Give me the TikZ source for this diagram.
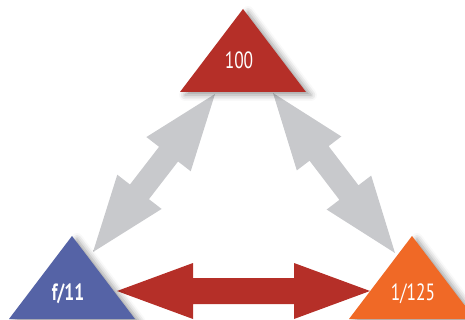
\documentclass[tikz,border=0pt]{standalone}
\usepackage{fontspec}
\newfontfamily\labelfont[FakeStretch=0.74]{PT Sans}
\usetikzlibrary{calc,shadows.blur}

\definecolor{isored}{RGB}{181,47,40}
\definecolor{apblue}{RGB}{85,99,166}
\definecolor{shorange}{RGB}{240,105,38}
\definecolor{arrgray}{RGB}{200,201,204}

% fat double arrow between two points: from, to, shaft half width, colour
\newcommand{\fatarrow}[4]{%
  \fill[#4] let \p1=($(#2)-(#1)$), \n1={atan2(\y1,\x1)}, \n2={veclen(\x1,\y1)} in
    [shift={(#1)}, rotate=\n1]
    (0,0) -- (76,28) -- (76,#3) -- (\n2-76,#3) -- (\n2-76,28) -- (\n2,0)
    -- (\n2-76,-28) -- (\n2-76,-#3) -- (76,-#3) -- (76,-28) -- cycle;}

\begin{document}
\begin{tikzpicture}[x=1pt,y=-1pt,
    tri/.style={blur shadow={shadow xshift=5pt,shadow yshift=-3pt,
        shadow blur radius=6pt,shadow opacity=40}},
    lbl/.style={text=white,anchor=base,inner sep=0pt,
        font=\labelfont\fontsize{23.5}{24}\selectfont}]
  \useasboundingbox (0,0) rectangle (465,320);
  \clip (0,0) rectangle (465,320);

  % arrow ends
  \coordinate (iso-l) at (215,94);
  \coordinate (iso-r) at (273,93);
  \coordinate (ap-t) at (93,252);
  \coordinate (ap-r) at (117,291);
  \coordinate (sh-t) at (395,253);
  \coordinate (sh-l) at (370,291);

  \fatarrow{iso-l}{ap-t}{12}{arrgray}
  \fatarrow{iso-r}{sh-t}{12}{arrgray}
  \fatarrow{ap-r}{sh-l}{13}{isored}

  % triangles
  \fill[isored,tri] (243,9) -- (306,92) -- (180,92) -- cycle;
  \fill[apblue,tri] (72,236) -- (135,319) -- (9,319) -- cycle;
  \fill[shorange,tri] (412,236) -- (475,319) -- (349,319) -- cycle;

  \node[lbl] (iso) at (239,69) {100};
  \node[lbl,font=\labelfont\bfseries\fontsize{23.5}{24}\selectfont] (aperture) at (68,300) {f/11};
  \node[lbl] (shutter) at (413,300) {1/125};
\end{tikzpicture}
\end{document}
